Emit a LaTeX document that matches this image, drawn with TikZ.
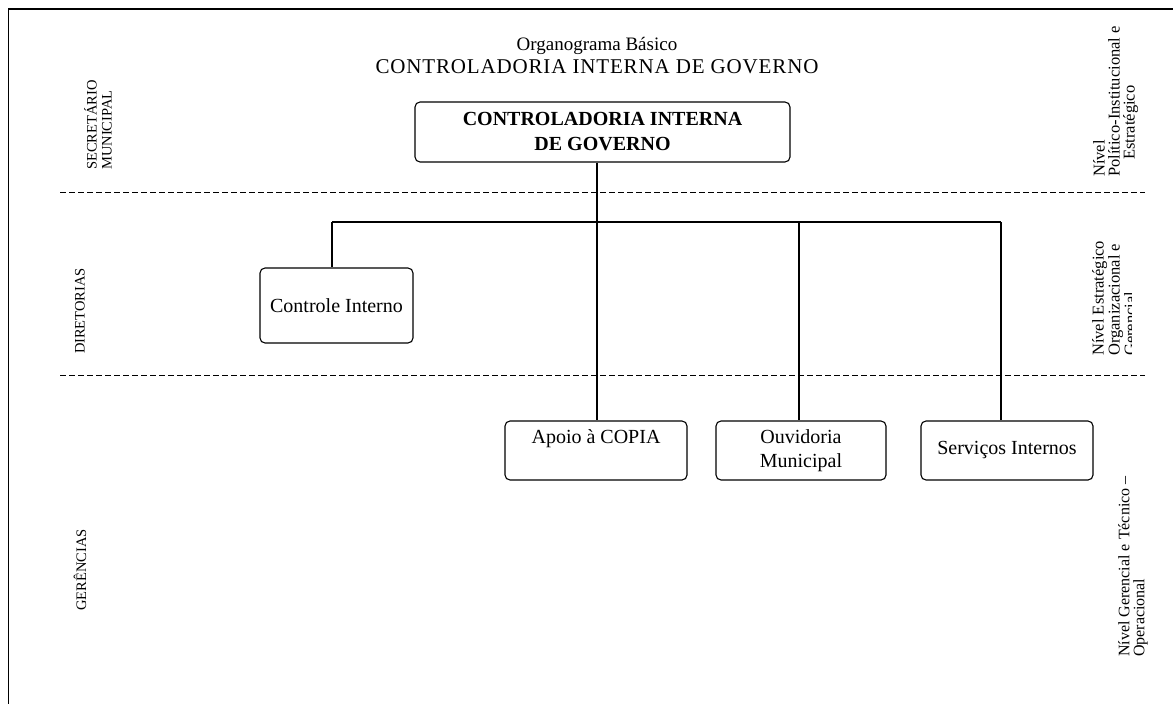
\documentclass[tikz,border=0pt]{standalone}
\usepackage{fontspec}
\setmainfont{Liberation Serif}
\newfontfamily\titlecaps[LetterSpace=4]{Liberation Serif}
\begin{document}
\begin{tikzpicture}[x=1pt,y=-1pt,
  unitbox/.style={draw, line width=1.1pt, rounded corners=5pt, inner sep=0pt,
    font=\fontsize{20}{24}\selectfont, align=center},
  sidelabel/.style={rotate=90, font=\fontsize{14.5}{15}\selectfont, align=left,
    inner sep=0pt, anchor=north west},
  levelnote/.style={sidelabel, font=\fontsize{16.5}{15}\selectfont},
  levelrule/.style={dash pattern=on 6pt off 3pt, line width=0.9pt},
  link/.style={line width=1.1pt}]
\useasboundingbox (0,0) rectangle (1173,704);

% page frame (left and top edges)
\draw[line width=1.6pt] (8.5,704) -- (8.5,9) -- (1173,9);

% title
\node[font=\fontsize{19}{23}\selectfont, align=center] (title) at (597,56)
  {Organograma Básico\\{\titlecaps\fontsize{21}{23}\selectfont CONTROLADORIA INTERNA DE GOVERNO}};

% level separators
\coordinate (r1a) at (60,192);  \coordinate (r1b) at (1145,192);
\coordinate (r2a) at (60,375);  \coordinate (r2b) at (1145,375);
\draw[levelrule] (r1a) -- (r1b);
\draw[levelrule] (r2a) -- (r2b);

% units
\node[unitbox, minimum width=375pt, minimum height=60pt, font=\fontsize{20}{25}\bfseries]
  (cig) at (602.5,132) {CONTROLADORIA INTERNA\\DE GOVERNO};
\node[unitbox, minimum width=153pt, minimum height=75pt] (ci) at (336.5,305.5) {Controle Interno};
\node[unitbox, minimum width=182pt, minimum height=59pt, text depth=27pt] (apoio) at (596,450.5) {Apoio à COPIA};
\node[unitbox, minimum width=170pt, minimum height=59pt] (ouv) at (801,450.5) {Ouvidoria\\Municipal};
\node[unitbox, minimum width=172pt, minimum height=59pt] (serv) at (1007,450.5) {Serviços Internos};

% connectors
\coordinate (hub) at (597,222);
\coordinate (j1) at (332,222);
\coordinate (j3) at (799,222);
\coordinate (j4) at (1001,222);
\draw[link] (cig.south -| hub) -- (hub);
\draw[link] (j1) -- (j4);
\draw[link] (j1) -- (j1 |- ci.north);
\draw[link] (hub) -- (hub |- apoio.north);
\draw[link] (j3) -- (j3 |- ouv.north);
\draw[link] (j4) -- (j4 |- serv.north);

% left level names
\node[sidelabel] (secmun) at (84,170) {SECRETÁRIO\\MUNICIPAL};
\node[sidelabel, anchor=center] (dir) at (80,311) {DIRETORIAS};
\node[sidelabel, anchor=center] (ger) at (80,570) {GERÊNCIAS};

% right level descriptions
\node[levelnote] (nv1) at (1093,177) {Nível\\Político-Institucional e\\\hspace*{17pt}Estratégico};
\begin{scope}
  \clip (1085,225) rectangle (1131,365);
  \node[levelnote] (nv2) at (1092,356) {Nível Estratégico\\Organizacional e\\Gerencial};
\end{scope}
\node[levelnote, font=\fontsize{16}{15}\selectfont] (nv3) at (1118,657) {Nível Gerencial e Técnico –\\Operacional};
\end{tikzpicture}
\end{document}
